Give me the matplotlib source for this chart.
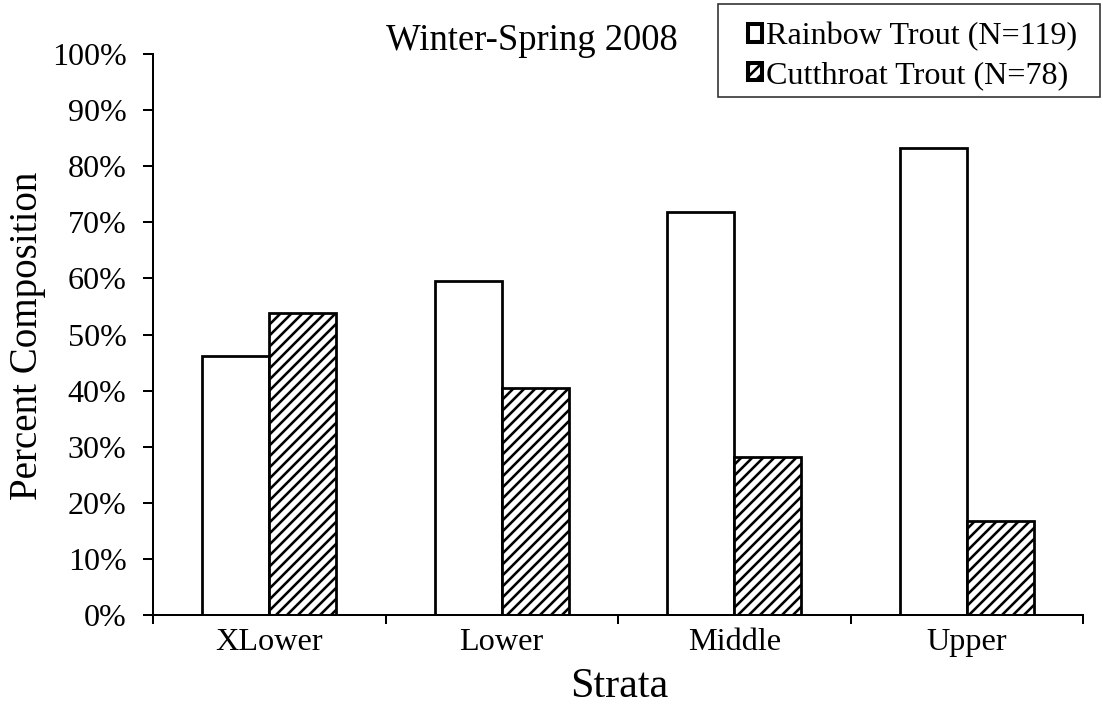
import numpy as np
import matplotlib
matplotlib.use('Agg')
import matplotlib.pyplot as plt
import matplotlib.patches as mpatches
from matplotlib.ticker import FuncFormatter, FixedLocator

plt.rcParams['font.family'] = ['Liberation Serif', 'DejaVu Serif']
plt.rcParams['hatch.linewidth'] = 1.4

#%% data
strata = ['XLower', 'Lower', 'Middle', 'Upper']
rainbow = [46.2, 59.5, 71.9, 83.3]
cutthroat = [53.8, 40.5, 28.1, 16.7]
lab_rainbow = 'Rainbow Trout (N=119)'
lab_cutthroat = 'Cutthroat Trout (N=78)'

#%% plot
W, H = 1103, 704
dpi = 132
fig = plt.figure(figsize=(W/dpi, H/dpi), dpi=dpi)
ax = fig.add_axes([153/W, 1-615/H, 930/W, 561/H])

x = np.arange(len(strata))
w = 0.288
ax.bar(x - w/2, rainbow, w, color='white', edgecolor='black', linewidth=1.5, zorder=2)
ax.bar(x + w/2, cutthroat, w, color='white', edgecolor='black', linewidth=1.5,
       hatch='////', zorder=2)

ax.set_xlim(-0.5, len(strata) - 0.5)
ax.set_ylim(0, 100)
ax.set_yticks(np.arange(0, 101, 10))
ax.yaxis.set_major_formatter(FuncFormatter(lambda v, p: '%d%%' % v))

# ticks between categories, labels at centres
ax.xaxis.set_major_locator(FixedLocator(np.arange(-0.5, len(strata), 1.0)))
ax.xaxis.set_major_formatter(plt.NullFormatter())
ax.set_xticks(x, strata, minor=True)

ax.tick_params(axis='y', direction='out', length=5.5, width=1.1, pad=9,
               labelsize=17.5, colors='black')
ax.tick_params(axis='x', which='major', direction='out', length=5, width=1.1)
ax.tick_params(axis='x', which='minor', length=0, pad=7, labelsize=17.6)

for s in ['top', 'right']:
    ax.spines[s].set_visible(False)
for s in ['left', 'bottom']:
    ax.spines[s].set_linewidth(1.1)

fig.text(532/W, 1-50/H, 'Winter-Spring 2008', ha='center', va='baseline',
         fontsize=20)
fig.text(619/W, 1-697/H, 'Strata', ha='center', va='baseline', fontsize=23)
fig.text(28/W, 1-336/H, 'Percent Composition', ha='center', va='center',
         rotation=90, fontsize=21.3)

# legend, with its own frame
h1 = mpatches.Patch(facecolor='white', edgecolor='black', linewidth=2.2)
h2 = mpatches.Patch(facecolor='white', edgecolor='black', linewidth=2.2, hatch='////')
leg = fig.legend([h1, h2], [lab_rainbow, lab_cutthroat], loc='center left',
                 bbox_to_anchor=(748/W, 1-56/H), borderaxespad=0, borderpad=0,
                 fontsize=17.5, handlelength=0.45, handleheight=0.45,
                 handletextpad=0.1, labelspacing=0.3, frameon=False)
fig.patches.append(mpatches.Rectangle((718/W, 1-97/H), 382/W, 93/H,
                                      transform=fig.transFigure, fill=False,
                                      edgecolor='#333333', linewidth=0.9))

fig.savefig('out.png', dpi=dpi)
